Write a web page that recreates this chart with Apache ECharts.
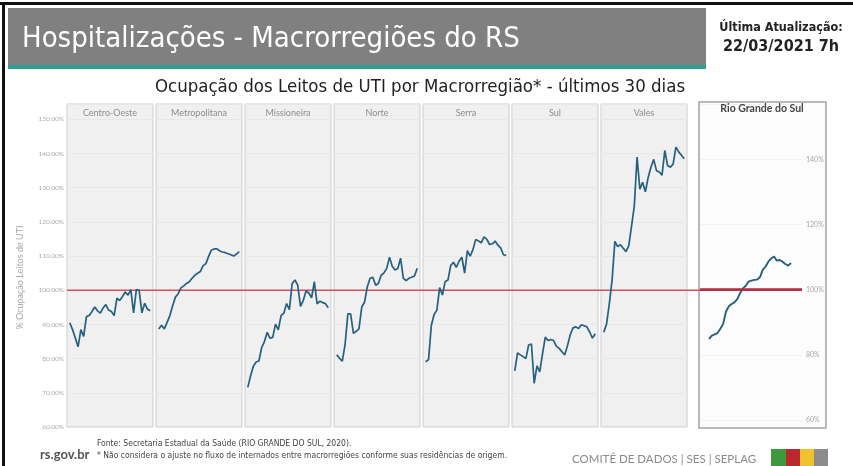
<!DOCTYPE html>
<html>
<head>
<meta charset="utf-8">
<script src="https://cdn.jsdelivr.net/npm/echarts@6/dist/echarts.min.js"></script>
<style>
  html, body { margin: 0; padding: 0; background: #fff; }
  #chart { width: 853px; height: 466px; }
</style>
</head>
<body>
<div id="chart"></div>
<script>
// last 30 days (21/02/2021 - 22/03/2021)
const days = ['21/02', '22/02', '23/02', '24/02', '25/02', '26/02', '27/02', '28/02',
  '01/03', '02/03', '03/03', '04/03', '05/03', '06/03', '07/03', '08/03', '09/03', '10/03',
  '11/03', '12/03', '13/03', '14/03', '15/03', '16/03', '17/03', '18/03', '19/03', '20/03',
  '21/03', '22/03'];

const regions = ['Centro-Oeste', 'Metropolitana', 'Missioneira', 'Norte', 'Serra', 'Sul', 'Vales'];

// % ocupação leitos UTI
const centroOeste = [90.5, 88.5, 86, 83.5, 88.5, 86.5, 92.3, 92.6, 93.8, 95.1, 94, 93.3, 94.8, 95.8, 94.2,
  93.8, 92.6, 97.7, 97, 98.2, 99.5, 98.6, 100.2, 93.4, 100.2, 100, 93.4, 96.2, 94.5, 94];
const metropolitana = [88.7, 89.8, 88.7, 90.6, 92.6, 95.5, 98, 99, 100.7, 101.3, 102, 102.5, 103.5, 104.4, 105,
  105.5, 107.2, 107.8, 110, 111.8, 112.1, 112.1, 111.5, 111.2, 111, 110.7, 110.4, 110, 110.6, 111.3];
const missioneira = [71.6, 74.9, 77.8, 79, 79.3, 83.2, 85, 87.7, 86, 86.2, 90.1, 88.4, 92.6, 93.3, 96.1,
  94.3, 102, 103, 101.5, 95.3, 97, 99.8, 99.2, 97.8, 102.5, 96, 96.8, 96.4, 96.1, 94.9];
const norte = [81.1, 80.1, 79.3, 84.2, 93.1, 93.1, 87.4, 88, 88.7, 95.1, 96.5, 101, 103.5, 103.8, 101.5,
  102, 104.4, 105.1, 106.4, 109.7, 107, 105.9, 106.4, 109.4, 103.5, 102.8, 103.5, 103.8, 104.2, 106.4];
const serra = [79.1, 79.7, 89.7, 92.9, 94.2, 100.8, 98.6, 102.6, 103, 107.3, 108.2, 106.7, 108.5, 109.7, 105,
  111.6, 110, 111.9, 114.9, 114.4, 113.9, 115.6, 114.9, 113.4, 113.6, 114.4, 113.2, 112.4, 110.4, 110.2];
const sul = [76.4, 81.7, 81.1, 80.6, 80, 84, 84.3, 72.8, 77.9, 76.1, 81.4, 86.3, 85.3, 85.6, 85.3,
  83.6, 83, 82, 81.1, 83.8, 87, 89, 89.3, 88.8, 89.9, 89.6, 89.3, 87.8, 86, 87.3];
const vales = [87.7, 90.1, 96.1, 103, 114.3, 112.8, 113.3, 112.3, 111.3, 113, 118.7, 124.6, 139, 129.6, 131.6,
  128.8, 133, 136, 138.3, 135, 134.6, 133.7, 140.9, 136.5, 136, 136.9, 141.9, 140.5, 139.5, 138.5];
const rioGrandeDoSul = [84.9, 85.9, 86.3, 86.7, 88, 89.5, 93.3, 94.9, 95.6, 96.1, 97.1, 99, 100.4, 101.2, 102.5,
  102.8, 103, 103.1, 103.8, 106.1, 107.1, 108.6, 109.6, 110.2, 108.9, 109.1, 108.6, 107.9, 107.4, 108.2];

const limite = 100;
const leftTicks = { min: 60, max: 154.5, interval: 10 };
const rsTicks = { min: 60, max: 157, interval: 20 };

const panels = [centroOeste, metropolitana, missioneira, norte, serra, sul, vales];

const FONT = 'Lato, "Open Sans", sans-serif';
const NARROW = '"Liberation Sans Narrow", "DejaVu Sans Condensed", "Liberation Sans", sans-serif';
const LINE = '#25607f';

const chart = echarts.init(document.getElementById('chart'));

const grids = [], xAxes = [], yAxes = [], series = [], graphics = [];

const toPoints = (arr) => arr.map((v, k) => [k, v]);

// small multiples
regions.forEach((name, i) => {
  const left = 67 + 89 * i;
  grids.push({
    left: left, width: 86, top: 104, bottom: 39,
    show: true, backgroundColor: '#f0f0f0', borderColor: '#cdcdcd', borderWidth: 1
  });
  xAxes.push({ type: 'value', gridIndex: i, min: -1, max: days.length, show: false });
  yAxes.push({
    type: 'value', gridIndex: i,
    min: leftTicks.min, max: leftTicks.max, interval: leftTicks.interval,
    axisLine: { show: false }, axisTick: { show: false },
    axisLabel: {
      show: i === 0, showMaxLabel: false, margin: 3,
      color: '#ababab', fontSize: 6.5, fontFamily: FONT,
      formatter: (v) => v.toFixed(2) + '%'
    },
    name: i === 0 ? '% Ocupação Leitos de UTI' : '',
    nameLocation: 'middle', nameGap: 42, nameRotate: 90,
    nameTextStyle: { color: '#a8a8a8', fontSize: 9, fontFamily: FONT, padding: [0, 24, 0, 0] },
    splitLine: { lineStyle: { color: '#e7e7e7', width: 1 } }
  });
  series.push({
    type: 'line', xAxisIndex: i, yAxisIndex: i, data: toPoints(panels[i]),
    symbol: 'none', lineStyle: { color: LINE, width: 1.7 }, z: 3
  });
  graphics.push({
    type: 'text', x: left + 43, y: 113, z: 10,
    style: { text: name, fill: '#8c8c8c', fontSize: 9, fontFamily: FONT,
      textAlign: 'center', textVerticalAlign: 'middle', align: 'center', verticalAlign: 'middle' }
  });
});

// Rio Grande do Sul panel
grids.push({ left: 700, width: 102, top: 104, bottom: 46 });
xAxes.push({ type: 'value', gridIndex: 7, min: -3.2, max: 32.9, show: false });
yAxes.push({
  type: 'value', gridIndex: 7, position: 'right',
  min: rsTicks.min, max: rsTicks.max, interval: rsTicks.interval,
  axisLine: { show: false }, axisTick: { show: false },
  axisLabel: { showMaxLabel: false, margin: 4, color: '#a8a8a8', fontSize: 7, fontFamily: FONT, formatter: '{value}%' },
  splitLine: { lineStyle: { color: '#f1f1f1' } }
});
series.push({
  type: 'line', xAxisIndex: 7, yAxisIndex: 7, data: toPoints(rioGrandeDoSul),
  symbol: 'none', lineStyle: { color: LINE, width: 1.9 }, z: 3,
  markLine: {
    silent: true, symbol: 'none', label: { show: false },
    lineStyle: { color: '#b02a40', width: 2.5, type: 'solid' },
    data: [{ yAxis: limite }]
  }
});

// 100% reference line across the panels
grids.push({ left: 67, width: 735, top: 104, bottom: 39 });
xAxes.push({ type: 'value', gridIndex: 8, min: 0, max: 1, show: false });
yAxes.push({ type: 'value', gridIndex: 8, min: leftTicks.min, max: leftTicks.max, show: false });
series.push({
  type: 'line', xAxisIndex: 8, yAxisIndex: 8, data: [[0, limite], [1, limite]],
  symbol: 'none', lineStyle: { color: '#c9535f', width: 1.5 }, z: 2, silent: true
});

const txt = (x, y, text, opts) => ({
  type: 'text', x: x, y: y, z: 10,
  style: Object.assign({ text: text, textVerticalAlign: 'middle', verticalAlign: 'middle' }, opts)
});
const center = { textAlign: 'center', align: 'center' };

graphics.push(
  // frame + header
  { type: 'rect', shape: { x: 0, y: 2, width: 853, height: 3 }, style: { fill: '#111' } },
  { type: 'rect', shape: { x: 2, y: 2, width: 3, height: 464 }, style: { fill: '#111' } },
  { type: 'rect', shape: { x: 8, y: 8, width: 698, height: 58 }, style: { fill: '#808080' } },
  { type: 'rect', shape: { x: 8, y: 65, width: 698, height: 4 }, style: { fill: '#2f9d8f' } },
  txt(22, 39, 'Hospitalizações - Macrorregiões do RS', { fill: '#fff', fontSize: 29, fontFamily: NARROW }),
  txt(781, 28, 'Última Atualização:', Object.assign({ fill: '#222', fontSize: 12.5, fontWeight: 'bold', fontFamily: NARROW }, center)),
  txt(781, 47, '22/03/2021 7h', Object.assign({ fill: '#222', fontSize: 16, fontWeight: 'bold', fontFamily: NARROW }, center)),
  txt(420, 87, 'Ocupação dos Leitos de UTI por Macrorregião* - últimos 30 dias', Object.assign({ fill: '#222', fontSize: 18.5, fontFamily: NARROW }, center)),
  // RS panel frame
  { type: 'rect', z: -10, shape: { x: 699, y: 102, width: 127, height: 326 },
    style: { fill: '#fcfcfc', stroke: '#a3a3a3', lineWidth: 1.5 } },
  txt(762, 109, 'Rio Grande do Sul', Object.assign({ fill: '#444', fontSize: 10.5, fontWeight: 'bold', fontFamily: FONT }, center)),
  // footer
  txt(40, 455, 'rs.gov.br', { fill: '#555', fontSize: 13, fontWeight: 'bold', fontFamily: FONT }),
  txt(97, 444, 'Fonte: Secretaria Estadual da Saúde (RIO GRANDE DO SUL, 2020).', { fill: '#444', fontSize: 8.5, fontFamily: NARROW }),
  txt(97, 456, '* Não considera o ajuste no fluxo de internados entre macrorregiões conforme suas residências de origem.', { fill: '#444', fontSize: 8.5, fontFamily: NARROW }),
  txt(572, 459, 'COMITÊ DE DADOS | SES | SEPLAG', { fill: '#8a8a8a', fontSize: 11.5, fontFamily: FONT }),
  { type: 'rect', shape: { x: 771, y: 449, width: 15, height: 17 }, style: { fill: '#3c9a3c' } },
  { type: 'rect', shape: { x: 786, y: 449, width: 14, height: 17 }, style: { fill: '#b8282e' } },
  { type: 'rect', shape: { x: 800, y: 449, width: 14, height: 17 }, style: { fill: '#f2c12e' } },
  { type: 'rect', shape: { x: 814, y: 449, width: 14, height: 17 }, style: { fill: '#8c8c8c' } }
);

chart.setOption({
  animation: false,
  backgroundColor: '#fff',
  grid: grids,
  xAxis: xAxes,
  yAxis: yAxes,
  series: series,
  graphic: graphics
});

window.addEventListener('resize', () => chart.resize());
</script>
</body>
</html>
